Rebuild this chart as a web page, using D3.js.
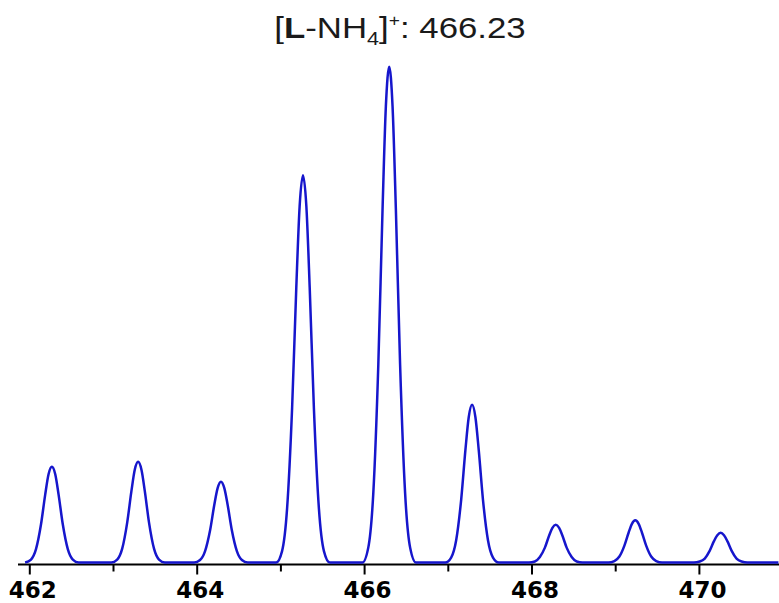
<!DOCTYPE html>
<html>
<head>
<meta charset="utf-8">
<script src="https://cdn.jsdelivr.net/npm/d3@7"></script>
<style>
  html, body { margin: 0; padding: 0; background: #fff; }
  svg { display: block; }
</style>
</head>
<body>
<div id="chart"></div>
<script>
// isotope pattern (m/z, relative intensity %)
const peakCenters = [462.27, 463.30, 464.29, 465.27, 466.30, 467.29, 468.29, 469.24, 470.26];
const offsets = [-0.32, -0.25, -0.19, -0.13, -0.08, -0.04, 0, 0.04, 0.08, 0.13, 0.19, 0.25, 0.32];
const peakProfiles = [
  [0, 0.6, 2.7, 7.7, 13.7, 17.8, 19.3, 17.8, 13.7, 7.7, 2.7, 0.6, 0],
  [0, 0.6, 2.8, 8.1, 14.4, 18.7, 20.3, 18.7, 14.4, 8.1, 2.8, 0.6, 0],
  [0, 0.5, 2.3, 6.5, 11.6, 15.0, 16.3, 15.0, 11.6, 6.5, 2.3, 0.5, 0],
  [0, 2.3, 10.9, 31.2, 55.5, 71.9, 78.1, 71.9, 55.5, 31.2, 10.9, 2.3, 0],
  [0, 3, 14, 40, 71, 92, 100, 92, 71, 40, 14, 3, 0],
  [0, 1.0, 4.5, 12.7, 22.6, 29.3, 31.8, 29.3, 22.6, 12.7, 4.5, 1.0, 0],
  [0, 0.2, 1.1, 3.0, 5.4, 7.0, 7.6, 7.0, 5.4, 3.0, 1.1, 0.2, 0],
  [0, 0.3, 1.2, 3.4, 6.0, 7.8, 8.5, 7.8, 6.0, 3.4, 1.2, 0.3, 0],
  [0, 0.2, 0.8, 2.4, 4.3, 5.5, 6.0, 5.5, 4.3, 2.4, 0.8, 0.2, 0]
];
const traceEnd = 470.95;
const majorTicks = [462, 464, 466, 468, 470];
const minorTicks = [463, 465, 467, 469];

const width = 779, height = 603;
const svg = d3.select("#chart").append("svg")
  .attr("width", width).attr("height", height);

const x = d3.scaleLinear().domain([461.865, 470.957]).range([18, 779]);
const y = d3.scaleLinear().domain([0, 100]).range([562.5, 66.7]);

// flatten into one trace
const trace = [];
peakCenters.forEach((c, i) => {
  offsets.forEach((o, j) => trace.push([c + o, peakProfiles[i][j]]));
});
trace.push([traceEnd, 0]);

const axisY = 564.5;

// axis line + ticks
const gx = svg.append("g").attr("transform", `translate(0,${axisY})`);
gx.call(d3.axisBottom(x).tickValues(minorTicks).tickSize(7).tickFormat("").tickSizeOuter(0))
  .call(g => g.select(".domain").remove());
gx.append("g")
  .call(d3.axisBottom(x).tickValues(majorTicks).tickSize(10).tickPadding(7).tickFormat(d3.format("d")).tickSizeOuter(0))
  .call(g => g.select(".domain").remove());
gx.selectAll(".tick line").attr("stroke", "#000").attr("stroke-width", 2);
gx.selectAll(".tick text")
  .attr("fill", "#000")
  .attr("font-family", "DejaVu Sans, sans-serif")
  .attr("font-weight", "bold")
  .attr("font-size", 23)
  .attr("dx", 3);
gx.append("line")
  .attr("x1", x.range()[0]).attr("x2", x.range()[1])
  .attr("stroke", "#000").attr("stroke-width", 2);

// spectrum trace
svg.append("path")
  .datum(trace)
  .attr("fill", "none")
  .attr("stroke", "#1616cc")
  .attr("stroke-width", 2.5)
  .attr("stroke-linejoin", "round")
  .attr("d", d3.line().x(d => x(d[0])).y(d => y(d[1])).curve(d3.curveMonotoneX));

// title
const title = svg.append("text")
  .attr("x", 400).attr("y", 38)
  .attr("text-anchor", "middle")
  .attr("font-family", "Liberation Sans, Arial, sans-serif")
  .attr("font-size", 29)
  .attr("fill", "#1a1a1a")
  .attr("transform", "translate(400,0) scale(1.2,1) translate(-400,0)");
title.append("tspan").text("[");
title.append("tspan").attr("font-weight", "bold").text("L");
title.append("tspan").text("-NH");
title.append("tspan").attr("font-size", 18).attr("dy", 7).text("4");
title.append("tspan").attr("dy", -7).text("]");
title.append("tspan").attr("font-size", 16).attr("dy", -12).text("+");
title.append("tspan").attr("dy", 12).text(": 466.23");
</script>
</body>
</html>
